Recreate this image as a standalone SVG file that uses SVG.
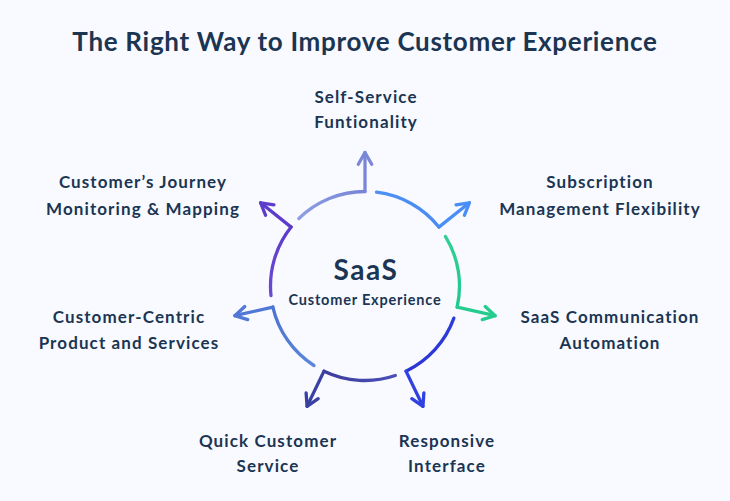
<svg xmlns="http://www.w3.org/2000/svg" width="730" height="501" viewBox="0 0 730 501">
  <style>
    .title { font-family: "Lato", "Liberation Sans", sans-serif; font-weight: 700; font-size: 26px; letter-spacing: 0.7px; fill: #1b3553; text-anchor: middle; }
    .label { font-family: "Lato", "Liberation Sans", sans-serif; font-weight: 700; font-size: 17px; letter-spacing: 1.1px; fill: #1b3553; text-anchor: middle; }
    .big { font-family: "Lato", "Liberation Sans", sans-serif; font-weight: 700; font-size: 28px; letter-spacing: 1.6px; fill: #1b3553; text-anchor: middle; }
    .sub { font-family: "Lato", "Liberation Sans", sans-serif; font-weight: 700; font-size: 14.5px; letter-spacing: 0.8px; fill: #1b3553; text-anchor: middle; }
    .arc { fill: none; stroke-width: 3.3; stroke-linecap: round; stroke-linejoin: round; }
    .arrow { fill: none; stroke-width: 3.3; stroke-linecap: round; }
    .head { fill: none; stroke-width: 3.3; stroke-linecap: round; stroke-linejoin: round; }
  </style>
  <defs>
    <linearGradient id="g1" gradientUnits="userSpaceOnUse" x1="298.85" y1="218.52" x2="365" y2="191.5"><stop offset="0" stop-color="#8d9fe4"/><stop offset="1" stop-color="#7884d6"/></linearGradient>
    <linearGradient id="g2" gradientUnits="userSpaceOnUse" x1="376.52" y1="192.21" x2="438.88" y2="227.09"><stop offset="0" stop-color="#4d90f6"/><stop offset="1" stop-color="#4b8af2"/></linearGradient>
    <linearGradient id="g3" gradientUnits="userSpaceOnUse" x1="445.51" y1="236.52" x2="457.13" y2="307.03"><stop offset="0" stop-color="#30d095"/><stop offset="1" stop-color="#22c88c"/></linearGradient>
    <linearGradient id="g4" gradientUnits="userSpaceOnUse" x1="453.88" y1="318.1" x2="406" y2="371.14"><stop offset="0" stop-color="#2d3cdc"/><stop offset="1" stop-color="#2b35d4"/></linearGradient>
    <linearGradient id="g5" gradientUnits="userSpaceOnUse" x1="395.32" y1="375.5" x2="324.01" y2="371.14"><stop offset="0" stop-color="#4a4fb6"/><stop offset="1" stop-color="#3c3c9c"/></linearGradient>
    <linearGradient id="g6" gradientUnits="userSpaceOnUse" x1="313.93" y1="365.51" x2="272.87" y2="307.03"><stop offset="0" stop-color="#5a86da"/><stop offset="1" stop-color="#4d73d0"/></linearGradient>
    <linearGradient id="g7" gradientUnits="userSpaceOnUse" x1="270.99" y1="295.65" x2="291.12" y2="227.09"><stop offset="0" stop-color="#6a4ad2"/><stop offset="1" stop-color="#5c3bcb"/></linearGradient>
    <marker id="m1" markerUnits="userSpaceOnUse" markerWidth="30" markerHeight="30" refX="0" refY="0" viewBox="-15 -15 30 30" orient="auto" overflow="visible"><path class="head" stroke="#7a87d8" d="M-11.7,-6.7 L0,0 L-11.7,6.7"/></marker>
    <marker id="m2" markerUnits="userSpaceOnUse" markerWidth="30" markerHeight="30" refX="0" refY="0" viewBox="-15 -15 30 30" orient="auto" overflow="visible"><path class="head" stroke="#4a8ef7" d="M-11.7,-6.7 L0,0 L-11.7,6.7"/></marker>
    <marker id="m3" markerUnits="userSpaceOnUse" markerWidth="30" markerHeight="30" refX="0" refY="0" viewBox="-15 -15 30 30" orient="auto" overflow="visible"><path class="head" stroke="#26cc8e" d="M-11.7,-6.7 L0,0 L-11.7,6.7"/></marker>
    <marker id="m4" markerUnits="userSpaceOnUse" markerWidth="30" markerHeight="30" refX="0" refY="0" viewBox="-15 -15 30 30" orient="auto" overflow="visible"><path class="head" stroke="#3140e0" d="M-11.7,-6.7 L0,0 L-11.7,6.7"/></marker>
    <marker id="m5" markerUnits="userSpaceOnUse" markerWidth="30" markerHeight="30" refX="0" refY="0" viewBox="-15 -15 30 30" orient="auto" overflow="visible"><path class="head" stroke="#3b40a3" d="M-11.7,-6.7 L0,0 L-11.7,6.7"/></marker>
    <marker id="m6" markerUnits="userSpaceOnUse" markerWidth="30" markerHeight="30" refX="0" refY="0" viewBox="-15 -15 30 30" orient="auto" overflow="visible"><path class="head" stroke="#5078d4" d="M-11.7,-6.7 L0,0 L-11.7,6.7"/></marker>
    <marker id="m7" markerUnits="userSpaceOnUse" markerWidth="30" markerHeight="30" refX="0" refY="0" viewBox="-15 -15 30 30" orient="auto" overflow="visible"><path class="head" stroke="#5d3bcb" d="M-11.7,-6.7 L0,0 L-11.7,6.7"/></marker>
  </defs>
  <rect width="730" height="501" fill="#f8faff"/>
  <text class="title" x="365" y="51">The Right Way to Improve Customer Experience</text>

  <g id="connectors">
    <path class="arc" stroke="url(#g1)" d="M298.85,218.52 A94.5,94.5 0 0 1 365,191.5"/>
    <path class="arrow" stroke="#7a87d8" marker-end="url(#m1)" d="M365,191.5 L365,152.5"/>
    <path class="arc" stroke="url(#g2)" d="M376.52,192.21 A94.5,94.5 0 0 1 438.88,227.09"/>
    <path class="arrow" stroke="#4a8ef7" marker-end="url(#m2)" d="M438.88,227.09 L469.37,202.78"/>
    <path class="arc" stroke="url(#g3)" d="M445.51,236.52 A94.5,94.5 0 0 1 457.13,307.03"/>
    <path class="arrow" stroke="#26cc8e" marker-end="url(#m3)" d="M457.13,307.03 L495.15,315.72"/>
    <path class="arc" stroke="url(#g4)" d="M453.88,318.1 A94.5,94.5 0 0 1 406,371.14"/>
    <path class="arrow" stroke="#3140e0" marker-end="url(#m4)" d="M406,371.14 L422.93,406.28"/>
    <path class="arc" stroke="url(#g5)" d="M395.32,375.5 A94.5,94.5 0 0 1 324.01,371.14"/>
    <path class="arrow" stroke="#3b40a3" marker-end="url(#m5)" d="M324.01,371.14 L307.07,406.28"/>
    <path class="arc" stroke="url(#g6)" d="M313.93,365.51 A94.5,94.5 0 0 1 272.87,307.03"/>
    <path class="arrow" stroke="#5078d4" marker-end="url(#m6)" d="M272.87,307.03 L234.85,315.72"/>
    <path class="arc" stroke="url(#g7)" d="M270.99,295.65 A94.5,94.5 0 0 1 291.12,227.09"/>
    <path class="arrow" stroke="#5d3bcb" marker-end="url(#m7)" d="M291.12,227.09 L260.63,202.78"/>
  </g>

  <g id="center">
    <text class="big" x="366" y="280">SaaS</text>
    <text class="sub" x="365" y="305">Customer Experience</text>
  </g>
  <g id="self-service">
    <text class="label" x="366" y="103">Self-Service</text>
    <text class="label" x="366" y="128">Funtionality</text>
  </g>
  <g id="subscription">
    <text class="label" x="600" y="188">Subscription</text>
    <text class="label" x="600" y="215">Management Flexibility</text>
  </g>
  <g id="communication">
    <text class="label" x="610" y="323">SaaS Communication</text>
    <text class="label" x="610" y="349">Automation</text>
  </g>
  <g id="responsive">
    <text class="label" x="447" y="447">Responsive</text>
    <text class="label" x="447" y="472">Interface</text>
  </g>
  <g id="quick-service">
    <text class="label" x="268" y="447">Quick Customer</text>
    <text class="label" x="268" y="472">Service</text>
  </g>
  <g id="customer-centric">
    <text class="label" x="129" y="323">Customer-Centric</text>
    <text class="label" x="129" y="349">Product and Services</text>
  </g>
  <g id="journey">
    <text class="label" x="143" y="188">Customer’s Journey</text>
    <text class="label" x="143" y="215">Monitoring &amp; Mapping</text>
  </g>
</svg>
